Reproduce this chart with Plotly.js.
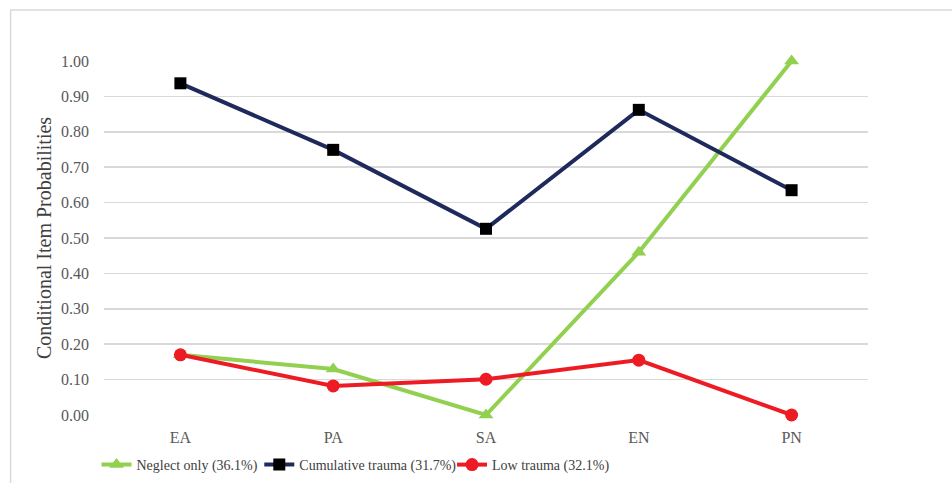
<!DOCTYPE html>
<html>
<head>
<meta charset="utf-8">
<script src="https://cdn.plot.ly/plotly-3.0.1.min.js"></script>
<style>
html,body{margin:0;padding:0;background:#fff;}
#chart{width:952px;height:483px;}
</style>
</head>
<body>
<div id="chart"></div>
<script>
const categories = ["EA", "PA", "SA", "EN", "PN"];
const neglectOnly = [0.17, 0.13, 0.00, 0.46, 1.00];
const cumulativeTrauma = [0.937, 0.749, 0.526, 0.862, 0.635];
const lowTrauma = [0.17, 0.082, 0.101, 0.155, 0.00];
const seriesNames = ["Neglect only (36.1%)", "Cumulative trauma (31.7%)", "Low trauma (32.1%)"];
const yTicks = [0, 0.1, 0.2, 0.3, 0.4, 0.5, 0.6, 0.7, 0.8, 0.9, 1.0];

const FONT = 'Liberation Serif';
const W = 952, H = 483;
const L = 103.5, R = 83.5, T = 61, B = 68;
const pw = W - L - R, ph = H - T - B;
const px = v => (v - L) / pw;
const py = v => (H - B - v) / ph;

const traces = [
  {x: categories, y: neglectOnly, name: seriesNames[0], type: 'scatter', mode: 'lines+markers', legend: 'legend',
   line: {color: '#92D050', width: 4}, marker: {symbol: 'triangle-up', size: 13, color: '#92D050'}, cliponaxis: false},
  {x: categories, y: cumulativeTrauma, name: seriesNames[1], type: 'scatter', mode: 'lines+markers', legend: 'legend2',
   line: {color: '#1F2A5C', width: 4}, marker: {symbol: 'square', size: 12, color: '#000000'}, cliponaxis: false},
  {x: categories, y: lowTrauma, name: seriesNames[2], type: 'scatter', mode: 'lines+markers', legend: 'legend3',
   line: {color: '#ED1C24', width: 4}, marker: {symbol: 'circle', size: 13, color: '#ED1C24'}, cliponaxis: false}
];

function legendAt(leftPx) {
  return {orientation: 'h', xref: 'paper', x: px(leftPx), xanchor: 'left',
          yref: 'container', y: 1 - 465 / H, yanchor: 'middle', bgcolor: 'rgba(0,0,0,0)',
          font: {family: FONT, size: 14, color: '#404040'}, itemwidth: 30};
}

const layout = {
  width: W, height: H,
  margin: {l: L, r: R, t: T, b: B, pad: 0, autoexpand: false},
  paper_bgcolor: '#ffffff', plot_bgcolor: '#ffffff',
  font: {family: FONT, color: '#595959', size: 16},
  showlegend: true,
  legend: legendAt(96),
  legend2: legendAt(259),
  legend3: legendAt(452),
  xaxis: {type: 'category', showgrid: false, zeroline: false, showline: false, ticks: '',
          tickfont: {family: FONT, size: 16, color: '#595959'}, ticklabelstandoff: 11,
          range: [-0.5, 4.5], fixedrange: true, automargin: false},
  yaxis: {range: [0, 1], tickvals: yTicks, tickformat: '.2f', showgrid: true, gridcolor: '#D9D9D9', gridwidth: 1.5,
          zeroline: false, showline: false, ticks: '', ticklen: 0, ticklabelstandoff: 14,
          tickfont: {family: FONT, size: 16, color: '#595959'},
          title: {text: 'Conditional Item Probabilities', font: {family: FONT, size: 20, color: '#404040'}, standoff: 4},
          fixedrange: true, automargin: false},
  shapes: [
    {type: 'line', xref: 'paper', yref: 'paper', x0: px(10), x1: px(960), y0: py(10), y1: py(10),
     line: {color: '#D9D9D9', width: 1.5}},
    {type: 'line', xref: 'paper', yref: 'paper', x0: px(10), x1: px(10), y0: py(10), y1: py(490),
     line: {color: '#D9D9D9', width: 1.5}}
  ]
};

Plotly.newPlot('chart', traces, layout, {displayModeBar: false, staticPlot: true});
</script>
</body>
</html>
